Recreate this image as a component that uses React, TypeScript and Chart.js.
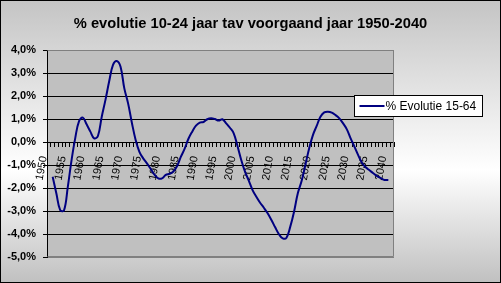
import React, { useEffect, useRef } from "react";
import { Chart, registerables } from "chart.js";

Chart.register(...registerables);

const years: number[] = Array.from({ length: 92 }, (_, i) => 1950 + i);

const evolutie1564: (number | null)[] = [
  null,
  -1.51, -2.25, -2.96, -2.98, -1.97, -0.8, 0.18, 0.91, 1.06, 0.77,
  0.45, 0.16, 0.26, 1.09, 1.83, 2.65, 3.35, 3.52, 3.27, 2.33,
  1.68, 0.84, 0.09, -0.43, -0.71, -0.93, -1.17, -1.42, -1.58, -1.58,
  -1.43, -1.38, -1.28, -1.04, -0.64, -0.29, 0.14, 0.45, 0.71, 0.84,
  0.87, 0.99, 1.03, 1.0, 0.93, 0.99, 0.81, 0.62, 0.38, -0.17,
  -0.78, -1.29, -1.68, -2.09, -2.38, -2.64, -2.86, -3.1, -3.39, -3.71,
  -4.01, -4.19, -4.16, -3.68, -3.03, -2.23, -1.7, -1.0, -0.28, 0.3,
  0.7, 1.1, 1.29, 1.32, 1.28, 1.17, 1.03, 0.81, 0.55, 0.16,
  -0.2, -0.57, -0.9, -1.1, -1.23, -1.36, -1.48, -1.57, -1.65, -1.65,
  null,
];

const titleText = "% evolutie 10-24 jaar tav voorgaand jaar 1950-2040";
const seriesLabel = "% Evolutie 15-64";
const yMin = -5;
const yMax = 4;

const FONT = "Arial, 'Liberation Sans', sans-serif";

const backgroundPlugin = {
  id: "bgPlugin",
  beforeDraw(chart: any) {
    const { ctx, width, height, chartArea } = chart;
    ctx.save();
    const g = ctx.createLinearGradient(0, 0, 0, height);
    g.addColorStop(0, "#c4c4c4");
    g.addColorStop(0.6, "#ffffff");
    g.addColorStop(1, "#c0c0c0");
    ctx.fillStyle = g;
    ctx.fillRect(0, 0, width, height);
    ctx.strokeStyle = "#000000";
    ctx.lineWidth = 1;
    ctx.strokeRect(0.5, 0.5, width - 1, height - 1);
    ctx.fillStyle = "#c0c0c0";
    ctx.fillRect(chartArea.left, chartArea.top, chartArea.right - chartArea.left, chartArea.bottom - chartArea.top);
    ctx.restore();
  },
  beforeDatasetsDraw(chart: any) {
    const { ctx, chartArea } = chart;
    ctx.save();
    ctx.strokeStyle = "#808080";
    ctx.lineWidth = 1;
    ctx.beginPath();
    const l = Math.round(chartArea.left) + 0.5;
    const r = Math.round(chartArea.right) - 0.5;
    const t = Math.round(chartArea.top) + 0.5;
    const b = Math.round(chartArea.bottom) - 0.5;
    ctx.moveTo(l, t);
    ctx.lineTo(r, t);
    ctx.lineTo(r, b);
    ctx.lineTo(l, b);
    ctx.stroke();
    ctx.restore();
  },
};

const legendBoxPlugin = {
  id: "legendBox",
  afterDraw(chart: any) {
    const { ctx } = chart;
    const ds = chart.data.datasets[0];
    const x = 354.5, y = 95.5, w = 128, h = 21;
    ctx.save();
    ctx.fillStyle = "#ffffff";
    ctx.fillRect(x, y, w, h);
    ctx.strokeStyle = "#000000";
    ctx.lineWidth = 1;
    ctx.strokeRect(x, y, w, h);
    ctx.strokeStyle = ds.borderColor;
    ctx.lineWidth = 2;
    ctx.beginPath();
    ctx.moveTo(x + 5, y + 10.5);
    ctx.lineTo(x + 30, y + 10.5);
    ctx.stroke();
    ctx.fillStyle = "#000000";
    ctx.font = `12px ${FONT}`;
    ctx.textBaseline = "middle";
    ctx.textAlign = "left";
    ctx.fillText(ds.label, x + 31, y + 11);
    ctx.restore();
  },
};

export default function App() {
  const ref = useRef<HTMLCanvasElement | null>(null);

  useEffect(() => {
    if (!ref.current) return;
    const chart = new Chart(ref.current, {
      type: "line",
      data: {
        labels: years.map(String),
        datasets: [
          {
            label: seriesLabel,
            data: evolutie1564,
            borderColor: "#000080",
            backgroundColor: "#000080",
            borderWidth: 2,
            pointRadius: 0,
            tension: 0.4,
            fill: false,
          },
        ],
      },
      options: {
        responsive: false,
        animation: false,
        devicePixelRatio: 1,
        layout: { padding: { left: 0, right: 0, top: 0, bottom: 26 } },
        plugins: {
          legend: { display: false },
          tooltip: { enabled: false },
          title: {
            display: true,
            text: titleText,
            color: "#000000",
            font: { family: FONT, size: 14.7, weight: "bold", lineHeight: 1.2 },
            padding: { top: 15.2, bottom: 17.16 },
          },
        },
        scales: {
          x: {
            type: "category",
            position: { y: 0 } as any,
            offset: true,
            grid: {
              display: true,
              drawOnChartArea: false,
              drawTicks: true,
              tickLength: 4,
              color: "#000000",
              tickColor: "#000000",
              offset: true,
            },
            border: { display: true, color: "#000000", width: 1 },
            ticks: {
              autoSkip: false,
              maxRotation: 80,
              minRotation: 80,
              padding: 9,
              labelOffset: -5,
              color: "#000000",
              font: { family: FONT, size: 11 },
              callback: function (this: any, _v: any, idx: number) {
                const yr = years[idx];
                return yr % 5 === 0 ? String(yr) : "";
              },
            },
          },
          y: {
            min: yMin,
            max: yMax,
            afterFit(scale: any) {
              scale.width = 47;
            },
            grid: {
              color: (c: any) =>
                c.tick && (c.tick.value === yMax || c.tick.value === yMin) ? "#808080" : "#000000",
              tickColor: "#000000",
              tickLength: 4,
              lineWidth: 1,
            },
            border: { display: true, color: "#000000", width: 1 },
            ticks: {
              stepSize: 1,
              padding: 7,
              color: "#000000",
              font: { family: FONT, size: 11, weight: "bold" },
              callback: (v: any) => Number(v).toFixed(1).replace(".", ",") + "%",
            },
          },
          yRightSpace: {
            type: "linear",
            position: "right",
            min: yMin,
            max: yMax,
            afterFit(scale: any) {
              scale.width = 107;
            },
            grid: { display: false, drawTicks: false },
            border: { display: false },
            ticks: { display: false },
          },
        },
      },
      plugins: [backgroundPlugin, legendBoxPlugin],
    });
    return () => chart.destroy();
  }, []);

  return (
    <div style={{ position: "fixed", left: 0, top: 0, width: 501, height: 283 }}>
      <canvas ref={ref} width={501} height={283} style={{ display: "block" }} />
    </div>
  );
}
